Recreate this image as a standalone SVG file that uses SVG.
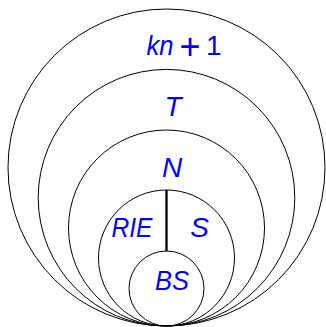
<svg xmlns="http://www.w3.org/2000/svg" width="326" height="327" viewBox="0 0 326 327">
<style>
.c{fill:none;stroke:#000;stroke-width:1}
.t{font-family:"Liberation Sans",Arial,sans-serif;font-size:28px;fill:#0000ff;font-style:italic}
.u{font-style:normal}
</style>
<rect width="326" height="327" fill="#fff"/>
<g id="n-kn1"><circle class="c" cx="166.5" cy="167.5" r="158.5"/><text class="t" y="54.5"><tspan x="146.5" textLength="27" lengthAdjust="spacingAndGlyphs">kn</tspan><tspan class="u" x="179.5" y="59" font-size="36">+</tspan><tspan class="u" x="206" y="54.5">1</tspan></text></g>
<g id="n-T"><circle class="c" cx="166.5" cy="197.7" r="128.3"/><text class="t" x="173" y="116" text-anchor="middle">T</text></g>
<g id="n-N"><circle class="c" cx="166.5" cy="228" r="98"/><text class="t" x="172" y="176.5" text-anchor="middle">N</text></g>
<g id="n-RIES"><circle class="c" cx="166.5" cy="258" r="68"/><text class="t" x="132" y="236.5" text-anchor="middle" textLength="41" lengthAdjust="spacingAndGlyphs">RIE</text><text class="t" x="199.5" y="236.5" text-anchor="middle">S</text></g>
<g id="n-BS"><circle class="c" cx="166.5" cy="288.5" r="37.5"/><text class="t" x="172" y="290" text-anchor="middle" textLength="34" lengthAdjust="spacingAndGlyphs">BS</text></g>
<g id="connectors"><line x1="166.5" y1="190" x2="166.5" y2="251" stroke="#000" stroke-width="2.3"/></g>
</svg>
